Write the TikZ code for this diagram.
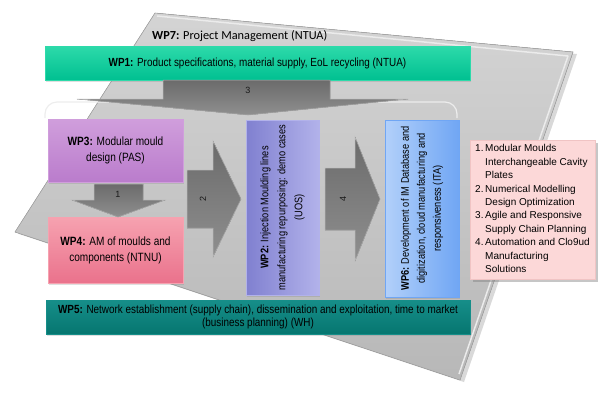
\documentclass[tikz,border=0pt]{standalone}
\usepackage{fontspec}
\setmainfont{Liberation Sans}
\newfontfamily\narrowfont{Liberation Sans}[FakeStretch=0.84]
\newfontfamily\titlefont{Carlito}
\usetikzlibrary{shadows,calc}

\definecolor{wp1top}{RGB}{45,218,170}
\definecolor{wp1bot}{RGB}{0,192,145}
\definecolor{wp5top}{RGB}{22,142,137}
\definecolor{wp5bot}{RGB}{6,118,112}
\definecolor{wp3top}{RGB}{208,158,220}
\definecolor{wp3bot}{RGB}{186,124,204}
\definecolor{wp4top}{RGB}{246,162,176}
\definecolor{wp4bot}{RGB}{234,114,140}
\definecolor{wp2top}{RGB}{178,178,234}
\definecolor{wp2bot}{RGB}{128,128,208}
\definecolor{wp6top}{RGB}{112,166,244}
\definecolor{wp6bot}{RGB}{178,208,250}
\definecolor{listfill}{RGB}{252,216,216}
\definecolor{listline}{RGB}{240,196,196}

\tikzset{
  wpbox/.style={line width=0.6pt, inner sep=2pt, align=center,
    font=\narrowfont\fontsize{11.8}{13}\selectfont,
    drop shadow={opacity=0.25, shadow xshift=1pt, shadow yshift=-1.5pt}},
  arrowbox/.style={top color=black!58, bottom color=black!44, draw=black!30, line width=0.5pt},
  numlabel/.style={font=\fontsize{9}{10}\selectfont, text=black!90, inner sep=0pt},
}

\begin{document}
\begin{tikzpicture}[x=1pt,y=-1pt]

\useasboundingbox (0,0) rectangle (600,400);

% grey plate behind everything
\coordinate (p1) at (155,13);
\coordinate (p2) at (573,52);
\coordinate (p3) at (460,380);
\coordinate (p4) at (15,232);

\fill[top color=black!17, bottom color=black!28,
      drop shadow={opacity=0.3, shadow xshift=4pt, shadow yshift=-2pt}]
  (p1) -- (p2) -- (p3) -- (p4) -- cycle;
\draw[black!8, line width=1.5pt, line join=round]
  ($(p1)+(2,3)$) -- ($(p2)+(-5,4)$) -- ($(p3)+(-1,-6)$);
\draw[black!35, line width=0.6pt] (p1) -- (p2) -- (p3) -- (p4) -- cycle;

\node[anchor=west, inner sep=0pt, font=\titlefont\fontsize{12.3}{14}\selectfont] (wp7) at (152,36)
  {\textbf{WP7:} Project Management (NTUA)};

% bracket round the middle row
\draw[black!7, line width=1.2pt, rounded corners=12pt]
  (45,118) -- (45,102) -- (457,102) -- (457,118);

\node[wpbox, top color=wp1top, bottom color=wp1bot, draw=wp1top,
      minimum width=425pt, minimum height=34pt] (wp1) at (257.5,63)
  {\textbf{WP1:} Product specifications, material supply, EoL recycling (NTUA)};

\node[wpbox, top color=wp5top, bottom color=wp5bot, draw=wp5top,
      minimum width=424pt, minimum height=34pt] (wp5) at (258,317)
  {\textbf{WP5:} Network establishment (supply chain), dissemination and exploitation, time to market\\
   (business planning)\ (WH)};

\node[wpbox, top color=wp3top, bottom color=wp3bot, draw=wp3top,
      font=\narrowfont\fontsize{12}{16}\selectfont,
      minimum width=135pt, minimum height=63pt] (wp3) at (115.5,150.5)
  {\textbf{WP3:} Modular mould\\ design (PAS)};

\node[wpbox, top color=wp4top, bottom color=wp4bot, draw=wp4top,
      font=\narrowfont\fontsize{12}{16}\selectfont,
      minimum width=135pt, minimum height=66pt] (wp4) at (115.5,250)
  {\textbf{WP4:} AM of moulds and\\ components (NTNU)};

\node[wpbox, rotate=90, right color=wp2top, left color=wp2bot, draw=wp2top,
      font=\narrowfont\fontsize{11}{17}\selectfont,
      minimum width=175pt, minimum height=73pt] (wp2) at (282.5,207.5)
  {\textbf{WP2:} Injection Moulding lines\\ manufacturing repurposing: demo cases\\ (UOS)};

\node[wpbox, rotate=90, right color=wp6top, left color=wp6bot, draw=wp6top,
      font=\narrowfont\fontsize{11}{16}\selectfont,
      minimum width=177pt, minimum height=74pt] (wp6) at (422,208.5)
  {\textbf{WP6:} Development of IM Database and\\ digitization, cloud manufacturing and\\ responsiveness (ITA)};

\node[fill=listfill, draw=listline, line width=0.6pt, inner sep=0pt,
      minimum width=125pt, minimum height=139pt,
      drop shadow={opacity=0.45, shadow xshift=3pt, shadow yshift=-3pt},
      font=\fontsize{10}{13.4}\selectfont] (res) at (532.5,209.5)
  {\begin{tabular}{@{}p{10pt}@{}l@{}}
   1. & Modular Moulds\\
      & Interchangeable Cavity\\
      & Plates\\
   2. & Numerical Modelling\\
      & Design Optimization\\
   3. & Agile and Responsive\\
      & Supply Chain Planning\\
   4. & Automation and Clo9ud\\
      & Manufacturing\\
      & Solutions
   \end{tabular}};

% block arrows
\fill[arrowbox] (163,80) -- (330,80) -- (330,99) -- (408,99) -- (248,115)
  -- (77,99) -- (163,99) -- cycle;
\node[numlabel] (n3) at (248,90) {3};

\fill[arrowbox] (94,184) -- (143,184) -- (143,200) -- (165,200) -- (118,217)
  -- (72,200) -- (94,200) -- cycle;
\node[numlabel] (n1) at (118,194) {1};

\fill[arrowbox] (187,170) -- (213,170) -- (213,141) -- (241,199) -- (213,257)
  -- (213,228) -- (187,228) -- cycle;
\node[numlabel, rotate=90] (n2) at (203,199) {2};

\fill[arrowbox] (325,168) -- (355,168) -- (355,137) -- (380,199) -- (355,261)
  -- (355,230) -- (325,230) -- cycle;
\node[numlabel, rotate=90] (n4) at (343,199) {4};

\end{tikzpicture}
\end{document}
